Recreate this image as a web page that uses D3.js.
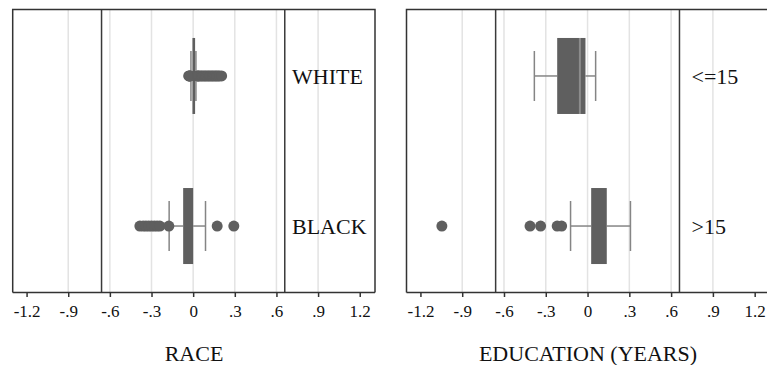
<!DOCTYPE html>
<html><head><meta charset="utf-8">
<script src="https://cdn.jsdelivr.net/npm/d3@7"></script>
<style>body{margin:0;background:#fff}svg{display:block}</style>
</head><body>
<script>
// ---- data ----
const tickValues = [-1.2, -0.9, -0.6, -0.3, 0, 0.3, 0.6, 0.9, 1.2];
const tickLabels = ["-1.2", "-.9", "-.6", "-.3", "0", ".3", ".6", ".9", "1.2"];
const gridValues = [-0.9, -0.6, -0.3, 0, 0.3, 0.6, 0.9];
const refLines = [-0.66, 0.66];

const raceCategories = ["WHITE", "BLACK"];
const raceQ1 = [-0.005, -0.072];
const raceMedian = [0.014, 0.0];
const raceQ3 = [0.014, 0.0];
const raceLow = [-0.016, -0.173];
const raceHigh = [0.02, 0.089];
const raceOutliersWhite = [-0.032, -0.028, -0.024, -0.02, 0.03, 0.035, 0.04, 0.05, 0.06, 0.07, 0.08, 0.09, 0.1, 0.11, 0.12, 0.13, 0.14, 0.15, 0.16, 0.17, 0.18, 0.19, 0.205];
const raceOutliersBlack = [-0.384, -0.36, -0.34, -0.32, -0.3, -0.28, -0.26, -0.24, -0.175, 0.173, 0.293];

const eduCategories = ["<=15", ">15"];
const eduQ1 = [-0.218, 0.026];
const eduMedian = [-0.055, 0.026];
const eduQ3 = [-0.015, 0.138];
const eduLow = [-0.382, -0.122];
const eduHigh = [0.058, 0.308];
const eduOutliersLow = [];
const eduOutliersHigh = [-1.046, -0.413, -0.337, -0.218, -0.186];

// ---- drawing ----
const W = 767, H = 365;
const svg = d3.select("body").append("svg").attr("width", W).attr("height", H);
const yTop = 9.5, yBottom = 292.5;
const serif = "'Liberation Serif','Times New Roman',serif";
const boxFill = "#5f5f5f", whiskerCol = "#858585", frameCol = "#333";

function panel(cfg) {
  const x = d3.scaleLinear().domain([-1.3, 1.31]).range([cfg.x0, cfg.x1]);
  const y = d3.scalePoint().domain(cfg.cats).range([yTop, yBottom]).padding(0.443);
  const g = svg.append("g");
  // grid
  g.selectAll("line.grid").data(gridValues).join("line").attr("class", "grid")
    .attr("x1", d => x(d)).attr("x2", d => x(d)).attr("y1", yTop).attr("y2", yBottom)
    .attr("stroke", "#e3e3e3").attr("stroke-width", 1.5);
  // reference lines
  g.selectAll("line.ref").data(refLines).join("line").attr("class", "ref")
    .attr("x1", d => x(d)).attr("x2", d => x(d)).attr("y1", yTop).attr("y2", yBottom)
    .attr("stroke", "#3a3a3a").attr("stroke-width", 1.5);
  // boxes
  const rows = cfg.cats.map((c, i) => ({c, q1: cfg.q1[i], med: cfg.med[i], q3: cfg.q3[i], lo: cfg.lo[i], hi: cfg.hi[i], out: cfg.out[i]}));
  const bh = 76, ch = 50;
  rows.forEach(r => {
    const cy = y(r.c);
    // whiskers
    g.append("line").attr("x1", x(r.lo)).attr("x2", x(r.q1)).attr("y1", cy).attr("y2", cy)
      .attr("stroke", whiskerCol).attr("stroke-width", 1.5);
    g.append("line").attr("x1", x(r.q3)).attr("x2", x(r.hi)).attr("y1", cy).attr("y2", cy)
      .attr("stroke", whiskerCol).attr("stroke-width", 1.5);
    [r.lo, r.hi].forEach(v => g.append("line").attr("x1", x(v)).attr("x2", x(v))
      .attr("y1", cy - ch / 2).attr("y2", cy + ch / 2).attr("stroke", whiskerCol).attr("stroke-width", 1.5));
    // box
    g.append("rect").attr("x", x(r.q1)).attr("width", Math.max(2.5, x(r.q3) - x(r.q1)))
      .attr("y", cy - bh / 2).attr("height", bh).attr("fill", boxFill);
    if (r.med > r.q1 && r.med < r.q3) {
      g.append("line").attr("x1", x(r.med)).attr("x2", x(r.med)).attr("y1", cy - bh / 2).attr("y2", cy + bh / 2)
        .attr("stroke", "#8c8c8c").attr("stroke-width", 2);
    }
    // outliers
    g.selectAll(null).data(r.out).join("circle")
      .attr("cx", d => x(d)).attr("cy", cy).attr("r", 5.5).attr("fill", boxFill);
    // category label
    g.append("text").attr("x", cfg.labelX).attr("y", cy).attr("dy", "0.35em")
      .attr("font-family", serif).attr("font-size", 22).attr("fill", "#111").text(r.c);
  });
  // frame
  g.append("path").attr("d", `M${cfg.x0},${yBottom}V${yTop}H${cfg.x1}V${yBottom}`)
    .attr("fill", "none").attr("stroke", frameCol).attr("stroke-width", 1.5);
  // axis
  const axis = d3.axisBottom(x).tickValues(tickValues).tickSize(4.5).tickPadding(8)
    .tickFormat((d, i) => tickLabels[i]);
  const ag = g.append("g").attr("transform", `translate(0,${yBottom})`).call(axis);
  ag.select(".domain").attr("stroke", frameCol).attr("stroke-width", 1.5)
    .attr("d", `M${cfg.x0},0H${cfg.x1}`);
  ag.selectAll(".tick line").attr("stroke", frameCol).attr("stroke-width", 1.5);
  ag.selectAll(".tick text").attr("font-family", serif).attr("font-size", 17).attr("fill", "#111");
  // title
  g.append("text").attr("x", cfg.titleX).attr("y", 361).attr("text-anchor", "middle")
    .attr("font-family", serif).attr("font-size", 22).attr("fill", "#111").text(cfg.title);
}

panel({x0: 12.7, x1: 375, cats: raceCategories, q1: raceQ1, med: raceMedian, q3: raceQ3,
  lo: raceLow, hi: raceHigh, out: [raceOutliersWhite, raceOutliersBlack], labelX: 292, title: "RACE", titleX: 194});
panel({x0: 406.5, x1: 770, cats: eduCategories, q1: eduQ1, med: eduMedian, q3: eduQ3,
  lo: eduLow, hi: eduHigh, out: [eduOutliersLow, eduOutliersHigh], labelX: 691.5, title: "EDUCATION (YEARS)", titleX: 588});
</script>
</body></html>
